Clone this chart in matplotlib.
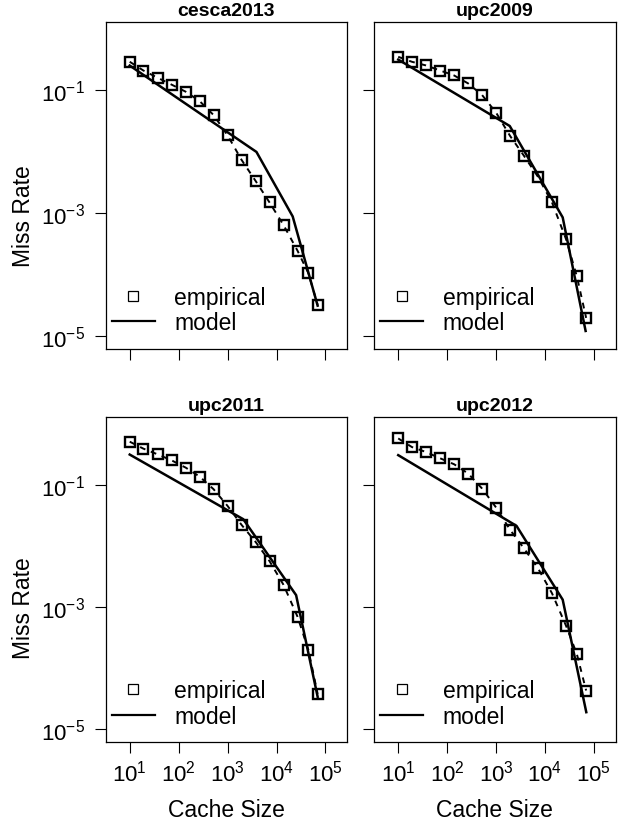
import numpy as np
import matplotlib
matplotlib.use('Agg')
import matplotlib.pyplot as plt
from matplotlib.lines import Line2D
from matplotlib.ticker import FixedLocator, NullLocator, LogFormatterSciNotation

plt.rcParams['font.family'] = ['Liberation Sans', 'DejaVu Sans']
plt.rcParams['mathtext.fontset'] = 'custom'
plt.rcParams['mathtext.rm'] = 'Liberation Sans'
plt.rcParams['mathtext.it'] = 'Liberation Sans:italic'

# data
cache_size = [10, 19, 37, 72, 139, 268, 518, 1000, 1931, 3728, 7197, 13895, 26827, 44668, 69183]

cesca2013_emp = [0.293, 0.211, 0.161, 0.124, 0.0953, 0.0670, 0.0396, 0.0185, 0.00736,
                 0.00335, 0.00149, 0.000638, 0.000244, 0.000105, 3.19e-5]
upc2009_emp = [0.353, 0.293, 0.255, 0.211, 0.175, 0.130, 0.0839, 0.0434, 0.0181,
               0.00855, 0.00389, 0.00149, 0.000378, 9.35e-5, 1.96e-5]
upc2011_emp = [0.519, 0.399, 0.322, 0.256, 0.195, 0.139, 0.0861, 0.0458, 0.0224,
               0.0118, 0.0057, 0.00233, 0.0007, 0.000201, 3.79e-5]
upc2012_emp = [0.587, 0.424, 0.351, 0.277, 0.221, 0.156, 0.0883, 0.0432, 0.0186,
               0.0092, 0.00434, 0.00169, 0.000498, 0.000171, 4.31e-5]

cesca2013_model_x = [10, 3890, 21380, 69183]
cesca2013_model_y = [0.254, 0.00993, 0.000883, 3.1e-5]
upc2009_model_x = [10, 1900, 22960, 67500]
upc2009_model_y = [0.318, 0.0263, 0.000851, 1.2e-5]
upc2011_model_x = [10, 2089, 25120, 69183]
upc2011_model_y = [0.319, 0.0278, 0.00158, 3.4e-5]
upc2012_model_x = [10, 2612, 22960, 69660]
upc2012_model_y = [0.312, 0.0216, 0.00133, 1.9e-5]

names = ['cesca2013', 'upc2009', 'upc2011', 'upc2012']
emp = [cesca2013_emp, upc2009_emp, upc2011_emp, upc2012_emp]
mod_x = [cesca2013_model_x, upc2009_model_x, upc2011_model_x, upc2012_model_x]
mod_y = [cesca2013_model_y, upc2009_model_y, upc2011_model_y, upc2012_model_y]

fig = plt.figure(figsize=(6.23, 8.29), dpi=100)

W, H = 623.0, 829.0
# axes boxes in pixels: left, top, right, bottom
boxes = [(105.5, 23, 347, 350), (374, 23, 615.5, 350),
         (105.5, 418.3, 347, 743.3), (374, 418.3, 615.5, 743.3)]

for i in range(4):
    l, t, r, b = boxes[i]
    ax = fig.add_axes([l / W, 1 - b / H, (r - l) / W, (b - t) / H])
    ax.set_xscale('log')
    ax.set_yscale('log')

    # empirical: dashed line + open squares
    ax.plot(cache_size, emp[i], color='black', ls='--', lw=1.4, dashes=(3, 3))
    ax.plot(cache_size, emp[i], ls='none', marker='s', ms=7, mew=1.7,
            mfc='none', mec='black')
    # model
    ax.plot(mod_x[i], mod_y[i], color='black', lw=1.8)

    ax.set_xlim(10 ** 0.505, 10 ** 5.44)
    ax.set_ylim(10 ** -5.215, 10 ** 0.115)

    ax.xaxis.set_major_locator(FixedLocator([1e1, 1e2, 1e3, 1e4, 1e5]))
    ax.yaxis.set_major_locator(FixedLocator([1e-5, 1e-3, 1e-1]))
    ax.xaxis.set_minor_locator(NullLocator())
    ax.yaxis.set_minor_locator(NullLocator())
    ax.xaxis.set_major_formatter(LogFormatterSciNotation())
    ax.yaxis.set_major_formatter(LogFormatterSciNotation())
    ax.tick_params(axis='both', direction='out', length=7.7, width=0.8,
                   labelsize=16, color='black')
    ax.tick_params(axis='x', pad=5)
    ax.tick_params(axis='y', pad=7)
    for sp in ax.spines.values():
        sp.set_linewidth(0.9)

    ax.set_title(names[i], fontsize=14, fontweight='bold', pad=5)

    if i < 2:
        ax.tick_params(axis='x', labelbottom=False)
    else:
        ax.set_xlabel('Cache Size', fontsize=16.5, labelpad=9)
    if i % 2 == 1:
        ax.tick_params(axis='y', labelleft=False)
    else:
        ax.set_ylabel('Miss Rate', fontsize=16.5)
        if i == 0:
            ax.yaxis.set_label_coords(-0.29, 0.41)
        else:
            ax.yaxis.set_label_coords(-0.29, 0.416)

    handles = [Line2D([], [], ls='none', marker='s', ms=6.5, mew=0.9, mfc='none', mec='black'),
               Line2D([], [], color='black', lw=1.6)]
    ax.legend(handles, ['empirical', 'model'], loc='lower left', frameon=False,
              fontsize=16.5, bbox_to_anchor=(0.026, 0.045), borderaxespad=0,
              borderpad=0, handlelength=1.87, handletextpad=0.85, labelspacing=0.1)

fig.savefig('out.png', dpi=100)
